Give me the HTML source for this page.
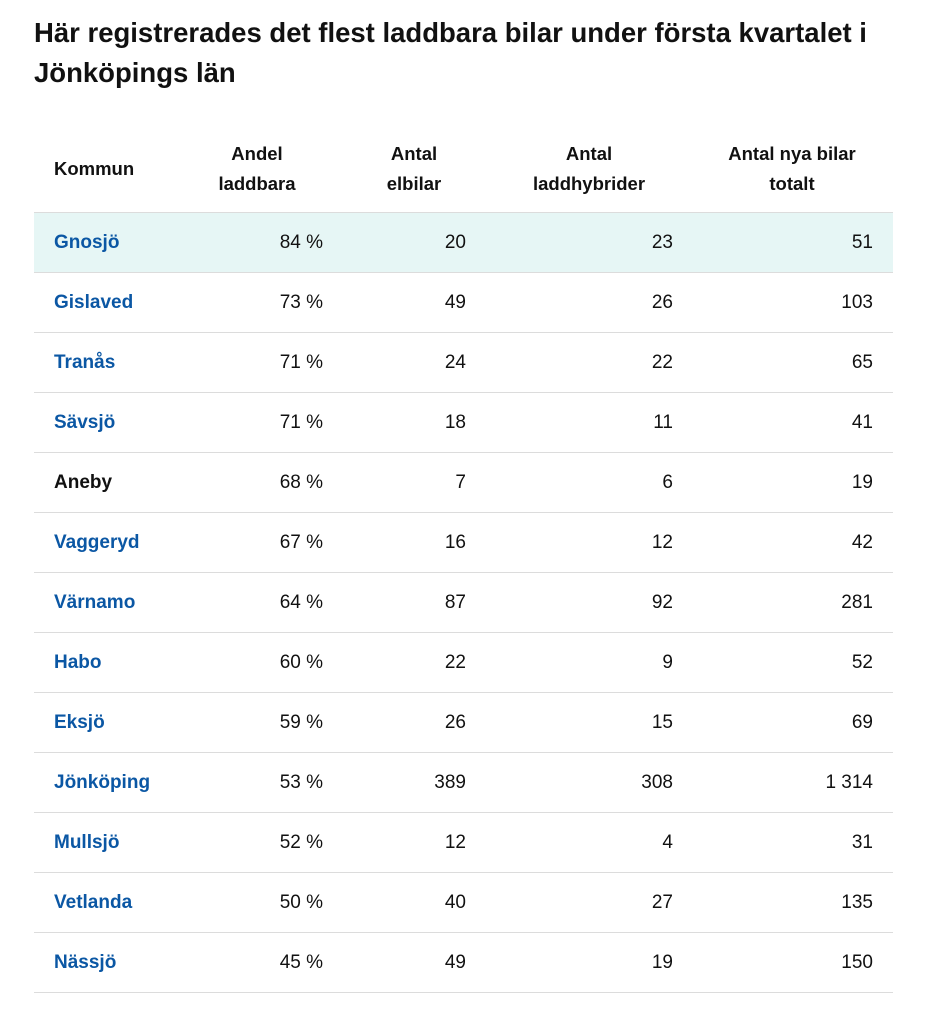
<!DOCTYPE html>
<html><head><meta charset="utf-8"><style>
body{margin:0;width:942px;height:1024px;background:#fff;font-family:"Liberation Sans",sans-serif;color:#111;position:relative;overflow:hidden}
.t{position:absolute;left:34px;top:13px;font-size:27.5px;font-weight:bold;line-height:40px;width:900px}
.h{position:absolute;font-weight:bold;font-size:18.5px;line-height:30px;text-align:center;width:200px}
.row{position:absolute;left:34px;width:859px;height:59px;border-bottom:1px solid #dcdcdc}
.row span{position:absolute;top:0;line-height:60px;font-size:19px}
.n{left:20px;font-weight:bold;color:#0b57a4}
.r{text-align:right;width:100px}
</style></head><body>
<div class="t">Här registrerades det flest laddbara bilar under första kvartalet i Jönköpings län</div>
<div class="h" style="left:54px;top:154px;text-align:left">Kommun</div>
<div class="h" style="left:157px;top:139px">Andel<br>laddbara</div>
<div class="h" style="left:314px;top:139px">Antal<br>elbilar</div>
<div class="h" style="left:489px;top:139px">Antal<br>laddhybrider</div>
<div class="h" style="left:692px;top:139px">Antal nya bilar<br>totalt</div>
<div style="position:absolute;left:34px;top:212px;width:859px;border-top:1px solid #dcdcdc"></div>
<div id="rows"></div>
<script>
var d=[["Gnosjö","84 %","20","23","51"],["Gislaved","73 %","49","26","103"],["Tranås","71 %","24","22","65"],["Sävsjö","71 %","18","11","41"],["Aneby","68 %","7","6","19"],["Vaggeryd","67 %","16","12","42"],["Värnamo","64 %","87","92","281"],["Habo","60 %","22","9","52"],["Eksjö","59 %","26","15","69"],["Jönköping","53 %","389","308","1 314"],["Mullsjö","52 %","12","4","31"],["Vetlanda","50 %","40","27","135"],["Nässjö","45 %","49","19","150"]];
var h="";d.forEach(function(r,i){h+='<div class="row" style="top:'+(213+i*60)+'px;'+(i==0?'background:#e6f6f5':'')+'"><span class="n" style="'+(r[0]=="Aneby"?'color:#111':'')+'">'+r[0]+'</span><span class="r" style="left:189px">'+r[1]+'</span><span class="r" style="left:332px">'+r[2]+'</span><span class="r" style="left:539px">'+r[3]+'</span><span class="r" style="left:739px">'+r[4]+'</span></div>'});
document.getElementById("rows").innerHTML=h;
</script>
</body></html>
